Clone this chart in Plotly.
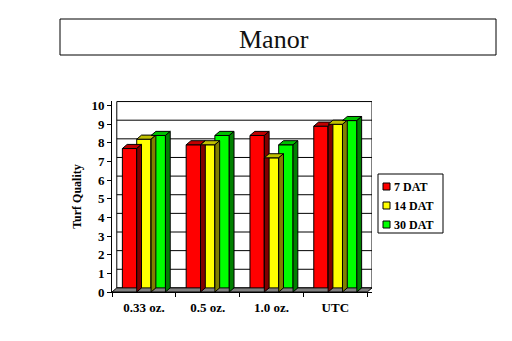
import plotly.graph_objects as go

categories = ["0.33 oz.", "0.5 oz.", "1.0 oz.", "UTC"]
series_names = ["7 DAT", "14 DAT", "30 DAT"]
dat7 = [7.7, 7.9, 8.4, 8.9]
dat14 = [8.2, 7.9, 7.2, 9.0]
dat30 = [8.4, 8.4, 7.9, 9.2]
y_ticks = [0, 1, 2, 3, 4, 5, 6, 7, 8, 9, 10]

front_colors = ["#ff0000", "#ffff00", "#00ff00"]
top_colors = ["#c00000", "#c0c000", "#00c000"]
side_colors = ["#800000", "#808000", "#008000"]

series = [dat7, dat14, dat30]
xs = list(range(len(categories)))
w = 0.225
dx = 0.075
dy = 0.22
xmin, xmax = -0.5, len(categories) - 0.5 + dx
FONT = "Liberation Serif"

W, H = 512, 341
ML, MR, MT, MB = 112, 140, 101, 49
PW, PH = W - ML - MR, H - MT - MB


def px(xp):
    return (xp - ML) / PW


def py(yp):
    return (H - MB - yp) / PH


fig = go.Figure()

fig.add_trace(go.Scatter(
    x=[xmin, len(categories) - 0.5, xmax, xmin + dx, xmin],
    y=[0, 0, dy, dy, 0], mode="lines", fill="toself",
    fillcolor="#808080", line=dict(color="black", width=1),
    showlegend=False, hoverinfo="skip"))

for i, (name, vals) in enumerate(zip(series_names, series)):
    off = -1.5 * w + i * w
    fig.add_trace(go.Bar(
        x=xs, y=vals, name=name, width=w, offset=off, showlegend=False,
        marker=dict(color=front_colors[i], line=dict(color="black", width=1))))
    for xc, v in zip(xs, vals):
        x0 = xc + off
        x1 = x0 + w
        fig.add_trace(go.Scatter(
            x=[x0, x0 + dx, x1 + dx, x1, x0], y=[v, v + dy, v + dy, v, v],
            mode="lines", fill="toself", fillcolor=top_colors[i],
            line=dict(color="black", width=1), showlegend=False, hoverinfo="skip"))
        fig.add_trace(go.Scatter(
            x=[x1, x1 + dx, x1 + dx, x1, x1], y=[0, dy, v + dy, v, 0],
            mode="lines", fill="toself", fillcolor=side_colors[i],
            line=dict(color="black", width=1), showlegend=False, hoverinfo="skip"))

shapes = []
for t in y_ticks:
    shapes.append(dict(type="line", xref="x", yref="y", x0=xmin + dx, x1=xmax,
                       y0=t + dy, y1=t + dy, line=dict(color="black", width=1),
                       layer="below"))
shapes.append(dict(type="line", xref="x", yref="y", x0=xmin + dx, x1=xmin + dx,
                   y0=dy, y1=10 + dy, line=dict(color="black", width=1), layer="below"))
shapes.append(dict(type="line", xref="x", yref="y", x0=xmax, x1=xmax,
                   y0=dy, y1=10 + dy, line=dict(color="black", width=1), layer="below"))
shapes.append(dict(type="rect", xref="paper", yref="paper", x0=px(60), x1=px(496),
                   y0=py(55), y1=py(19), line=dict(color="black", width=1),
                   fillcolor="white"))
shapes.append(dict(type="rect", xref="paper", yref="paper", x0=px(378), x1=px(443),
                   y0=py(233), y1=py(174), line=dict(color="black", width=1),
                   fillcolor="white"))

annotations = [dict(text="Manor", xref="paper", yref="paper", x=px(274), y=py(39),
                    xanchor="center", yanchor="middle", showarrow=False,
                    font=dict(family=FONT, size=26, color="#111111"))]

for i, name in enumerate(series_names):
    cy = 186.5 + 19 * i
    shapes.append(dict(type="rect", xref="paper", yref="paper",
                       x0=px(383), x1=px(390), y0=py(cy + 3.5), y1=py(cy - 3.5),
                       fillcolor=front_colors[i], line=dict(color="black", width=1)))
    annotations.append(dict(text="<b>" + name + "</b>", xref="paper", yref="paper",
                            x=px(392), y=py(cy), xanchor="left", yanchor="middle",
                            showarrow=False,
                            font=dict(family=FONT, size=12, color="black")))

fig.update_layout(
    width=W, height=H,
    margin=dict(l=ML, r=MR, t=MT, b=MB),
    paper_bgcolor="white", plot_bgcolor="white",
    barmode="overlay",
    shapes=shapes,
    annotations=annotations,
    showlegend=False,
    xaxis=dict(range=[xmin, xmax], tickvals=xs,
               ticktext=["<b>" + c + "</b>" for c in categories],
               showgrid=False, zeroline=False, showline=True, linecolor="black",
               ticks="", ticklen=0, ticklabelstandoff=3,
               minor=dict(tick0=-0.5, dtick=1, ticks="outside", ticklen=4,
                          tickcolor="black", showgrid=False),
               tickfont=dict(family=FONT, size=13, color="black"), fixedrange=True),
    yaxis=dict(range=[0, 10 + dy + 0.03], tickvals=y_ticks,
               ticktext=["<b>%d</b>" % t for t in y_ticks],
               showgrid=False, zeroline=False, showline=True, linecolor="black",
               ticks="outside", ticklen=4, tickcolor="black",
               tickfont=dict(family=FONT, size=13, color="black"),
               title=dict(text="<b>Turf Quality</b>", standoff=7,
                          font=dict(family=FONT, size=12, color="black")),
               fixedrange=True),
)

fig.write_html("out.html")
